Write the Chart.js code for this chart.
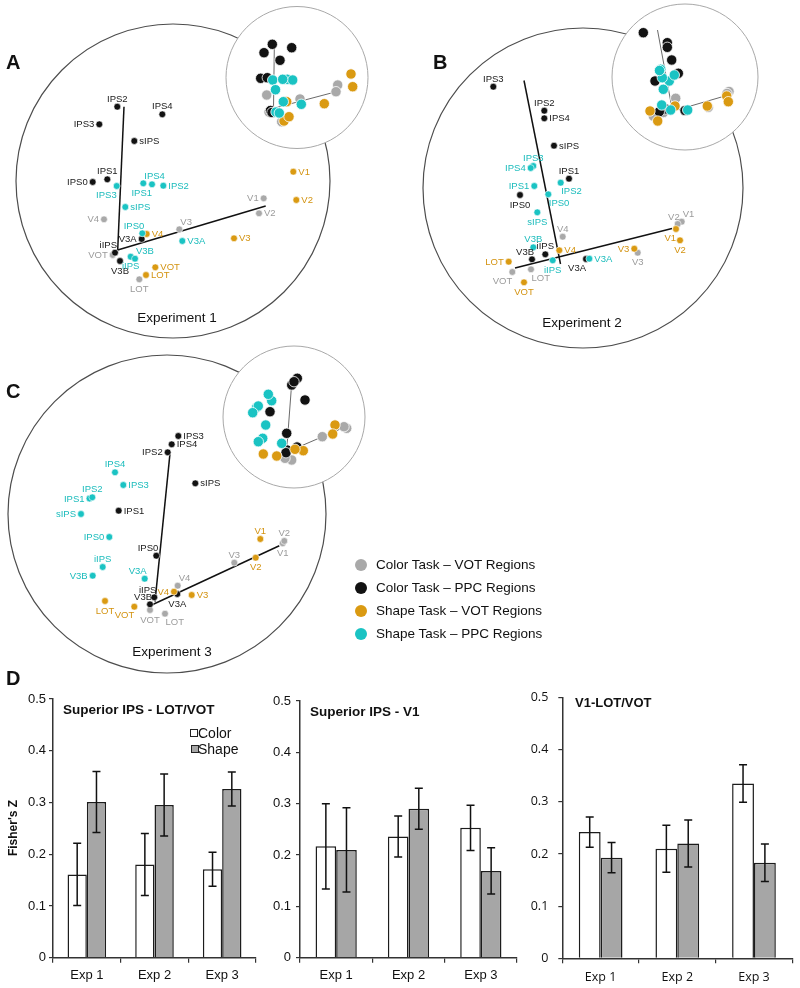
<!DOCTYPE html>
<html>
<head>
<meta charset="utf-8">
<script src="https://cdn.jsdelivr.net/npm/chart.js@4.4.1/dist/chart.umd.min.js"></script>
<style>
  body { margin: 0; width: 800px; height: 988px; position: relative; overflow: hidden; background: #fff;
         font-family: "Liberation Sans", Arial, sans-serif; color: #111; }
  canvas { position: absolute; }
  .txt { position: absolute; white-space: nowrap; line-height: 1; }
  .letter { font-size: 20px; font-weight: bold; }
  .exp { font-size: 13.5px; transform: translateX(-50%); }
  .leg { font-size: 13.5px; }
  .dot { position: absolute; width: 12px; height: 12px; border-radius: 50%; }
  .ttl { font-size: 13.5px; font-weight: bold; }
  .box { position: absolute; width: 6px; height: 6px; border: 1px solid #222; }
</style>
</head>
<body>
<canvas id="mds" width="800" height="680" style="left:0;top:0"></canvas>
<canvas id="bar1" width="265" height="308" style="left:0;top:680px"></canvas>
<canvas id="bar2" width="265" height="308" style="left:265px;top:680px"></canvas>
<canvas id="bar3" width="270" height="308" style="left:530px;top:680px"></canvas>

<div class="txt letter" style="left:6px;top:52px">A</div>
<div class="txt letter" style="left:433px;top:52px">B</div>
<div class="txt letter" style="left:6px;top:381px">C</div>
<div class="txt letter" style="left:6px;top:668px">D</div>

<div class="txt exp" style="left:177px;top:311px">Experiment 1</div>
<div class="txt exp" style="left:582px;top:316px">Experiment 2</div>
<div class="txt exp" style="left:172px;top:645px">Experiment 3</div>

<div class="dot" style="left:355px;top:559px;background:#a9a9a9"></div>
<div class="dot" style="left:355px;top:582px;background:#121212"></div>
<div class="dot" style="left:355px;top:605px;background:#da9a12"></div>
<div class="dot" style="left:355px;top:628px;background:#1ac3c3"></div>
<div class="txt leg" style="left:376px;top:558px">Color Task – VOT Regions</div>
<div class="txt leg" style="left:376px;top:581px">Color Task – PPC Regions</div>
<div class="txt leg" style="left:376px;top:604px">Shape Task – VOT Regions</div>
<div class="txt leg" style="left:376px;top:627px">Shape Task – PPC Regions</div>

<div class="txt ttl" style="left:63px;top:703px">Superior IPS - LOT/VOT</div>
<div class="txt ttl" style="left:310px;top:705px">Superior IPS - V1</div>
<div class="txt ttl" style="left:575px;top:696px;font-size:13px">V1-LOT/VOT</div>
<div class="txt" style="left:13px;top:828px;font-size:12px;font-weight:bold;transform:translate(-50%,-50%) rotate(-90deg)">Fisher's Z</div>

<div class="box" style="left:190px;top:729px;background:#fff"></div>
<div class="txt" style="left:198px;top:726px;font-size:14px">Color</div>
<div class="box" style="left:191px;top:745px;background:#a6a6a6"></div>
<div class="txt" style="left:198px;top:742px;font-size:14px">Shape</div>

<script>
// region names, same order in every point array below
const ppcNames = ['IPS0', 'IPS1', 'IPS2', 'IPS3', 'IPS4', 'sIPS', 'iIPS', 'V3A', 'V3B'];
const votNames = ['V1', 'V2', 'V3', 'V4', 'LOT', 'VOT'];

// --- Experiment 1 (MDS coordinates) ---
const e1ColorPPC = [[92.7, 182], [107.3, 179.3], [117.3, 106.7], [99.3, 124.3], [162.3, 114.3], [134.3, 141], [115, 252.7], [141.7, 239], [120, 261]];
const e1ColorVOT = [[263.7, 198.3], [259, 213.3], [179.3, 229.3], [104, 219.3], [139.3, 279.3], [112.7, 255]];
const e1ShapeVOT = [[293.3, 171.7], [296.3, 200], [234, 238.3], [146.7, 234], [146, 275], [155.3, 267.3]];
const e1ShapePPC = [[142.3, 233.3], [152, 184.3], [163.3, 185.7], [116.7, 186], [143.3, 183.3], [125.3, 207], [130.7, 256.7], [182.3, 241], [135, 258.7]];
const e1ColorPPCIn = [[260.7, 78.3], [267.3, 77.7], [272.3, 44.3], [264, 52.7], [291.7, 47.7], [280, 60.3], [270.5, 110.5], [285, 101.5], [272, 112.5]];
const e1ColorVOTIn = [[337.7, 85], [336, 91.7], [300, 99], [266.7, 95], [281.7, 121.7], [269, 112]];
const e1ShapeVOTIn = [[351, 74], [352.7, 86.7], [324.3, 103.7], [286.7, 101.7], [284, 121], [289, 116.7]];
const e1ShapePPCIn = [[283.3, 101.7], [287.3, 79.3], [292.7, 80], [272.7, 80], [282.7, 79.3], [275.5, 89.7], [276, 112], [301.3, 104.3], [279.3, 113]];
const e1Axes = [[[124, 106.7], [117.7, 250]], [[117.7, 250], [265.7, 206]]];
const e1AxesIn = [[[274.3, 48.3], [273.5, 108.3]], [[273.5, 108.3], [337, 91.5]]];

// --- Experiment 2 ---
const e2ColorPPC = [[520, 195], [569, 178.7], [544.3, 110.7], [493.3, 86.7], [544.3, 118.3], [554, 145.7], [545.3, 254.3], [586, 259], [532, 259.3]];
const e2ColorVOT = [[681.7, 221.7], [677.7, 224], [637.7, 252.7], [562.7, 236.7], [531, 269.3], [512.3, 272]];
const e2ShapeVOT = [[676, 229], [680, 240.3], [634.3, 248.7], [559.3, 250.3], [508.7, 261.7], [524, 282.3]];
const e2ShapePPC = [[548.3, 194.3], [534.3, 186], [560.7, 182.7], [533.3, 166], [530.7, 168], [537.3, 212.3], [552.7, 260.3], [589.3, 258.7], [533.3, 247.3]];
const e2ColorPPCIn = [[655, 81], [678.3, 73.3], [667.3, 42.7], [643.3, 32.7], [667.3, 47.3], [671.7, 60], [666, 109], [685, 110.5], [659.3, 111.7]];
const e2ColorVOTIn = [[729, 91.5], [727, 93.5], [708.3, 107.3], [675.7, 98.3], [663.5, 112.5], [653.3, 116]];
const e2ShapeVOTIn = [[726.7, 96], [728.3, 101.7], [707.3, 106], [675, 106], [650, 111], [657.7, 121]];
const e2ShapePPCIn = [[669.3, 81], [662.3, 77.7], [674.3, 75], [660.7, 69.3], [659.5, 70.5], [663.3, 89.3], [670.7, 110], [687.7, 110], [661.7, 105]];
const e2Axes = [[[524, 80.5], [560.5, 264]], [[515, 268], [672, 228.5]]];
const e2AxesIn = [[[657.5, 30], [672.5, 111]], [[670, 112], [728.3, 95]]];

// --- Experiment 3 ---
const e3ColorPPC = [[156.3, 555.7], [118.7, 510.7], [167.7, 452.3], [178.3, 436], [171.7, 444.3], [195.3, 483.3], [154.3, 597.3], [177.3, 594], [150, 604.3]];
const e3ColorVOT = [[282.7, 543.3], [284.3, 541], [234.3, 562.7], [177.7, 585.7], [165, 613.7], [150, 610]];
const e3ShapeVOT = [[260.3, 539], [255.7, 557.7], [191.7, 595], [174, 591.7], [105, 601], [134.3, 606.7]];
const e3ShapePPC = [[109.3, 537], [89.5, 498.5], [92.3, 497.3], [123.3, 485], [115, 472.3], [81, 514], [102.7, 567], [144.7, 578.7], [92.7, 575.7]];
const e3ColorPPCIn = [[286.7, 433.3], [270, 411.7], [291.7, 385], [297.3, 378.3], [294, 381.7], [305, 400], [287, 450], [297, 447], [286, 452.7]];
const e3ColorVOTIn = [[346.7, 428.3], [344, 426.7], [322.3, 436.7], [297.3, 446.7], [291.7, 460], [285, 458.3]];
const e3ShapeVOTIn = [[335, 425], [332.7, 434], [303.3, 450.7], [295, 449.3], [263.3, 454], [276.7, 456]];
const e3ShapePPCIn = [[265.7, 425], [256.5, 407.5], [258.3, 406], [271.7, 400.7], [268.3, 394.3], [252.7, 412.7], [262.7, 438.3], [281.7, 443.3], [258.3, 441.7]];
const e3Axes = [[[170, 453.3], [155, 601.7]], [[151.7, 605], [279.3, 545.7]]];
const e3AxesIn = [[[291.7, 383.3], [286.7, 450]], [[287, 452], [345, 427]]];

// --- Panel D: Fisher's Z (mean and error) ---
const expLabels = ['Exp 1', 'Exp 2', 'Exp 3'];
const ipsLotColor = [0.161, 0.180, 0.171];
const ipsLotColorErr = [0.060, 0.060, 0.033];
const ipsLotShape = [0.301, 0.295, 0.326];
const ipsLotShapeErr = [0.059, 0.060, 0.033];
const ipsV1Color = [0.217, 0.236, 0.253];
const ipsV1ColorErr = [0.083, 0.040, 0.044];
const ipsV1Shape = [0.210, 0.290, 0.169];
const ipsV1ShapeErr = [0.082, 0.040, 0.045];
const v1LotColor = [0.242, 0.210, 0.335];
const v1LotColorErr = [0.029, 0.045, 0.036];
const v1LotShape = [0.193, 0.220, 0.183];
const v1LotShapeErr = [0.029, 0.045, 0.036];

// label side for each point: l r t b tl tr bl br
const e1Pos = [
  ['l', 'r', 'tr', 'l', 'b', 'l'],
  ['l', 't', 't', 'l', 't', 'r', 'tl', 'l', 'b'],
  ['r', 'r', 'r', 'r', 'r', 'r'],
  ['tl', 'bl', 'r', 'bl', 'tr', 'r', 'b', 'r', 'tr'],
];
const e2Pos = [
  ['tr', 'tl', 'b', 't', 'br', 'bl'],
  ['b', 't', 't', 't', 'r', 'r', 't', 'bl', 'tl'],
  ['bl', 'b', 'l', 'r', 'l', 'b'],
  ['br', 'l', 'br', 't', 'l', 'b', 'b', 'r', 't'],
];
const e3Pos = [
  ['b', 't', 't', 'tr', 'br', 'b'],
  ['tl', 'r', 'l', 'r', 'r', 'r', 'tl', 'b', 'tl'],
  ['t', 'b', 'r', 'l', 'b', 'bl'],
  ['l', 'l', 't', 'r', 't', 'l', 't', 'tl', 'l'],
];

// circles: [cx, cy, r] in the same units as the points
const mainRings = [[173, 181, 157], [583, 188, 160], [167, 514, 159]];
const insetRings = [[297, 77.5, 71], [685, 77, 73], [294, 417, 71]];

const groups = [
  { color: '#a9a9a9', text: '#9b9b9b', order: 4, names: votNames },
  { color: '#121212', text: '#1a1a1a', order: 3, names: ppcNames },
  { color: '#da9a12', text: '#d39311', order: 2, names: votNames },
  { color: '#1ac3c3', text: '#1bbcbc', order: 1, names: ppcNames },
];

const experiments = [
  { main: [e1ColorVOT, e1ColorPPC, e1ShapeVOT, e1ShapePPC], inset: [e1ColorVOTIn, e1ColorPPCIn, e1ShapeVOTIn, e1ShapePPCIn], pos: e1Pos, axes: e1Axes, axesIn: e1AxesIn },
  { main: [e2ColorVOT, e2ColorPPC, e2ShapeVOT, e2ShapePPC], inset: [e2ColorVOTIn, e2ColorPPCIn, e2ShapeVOTIn, e2ShapePPCIn], pos: e2Pos, axes: e2Axes, axesIn: e2AxesIn },
  { main: [e3ColorVOT, e3ColorPPC, e3ShapeVOT, e3ShapePPC], inset: [e3ColorVOTIn, e3ColorPPCIn, e3ShapeVOTIn, e3ShapePPCIn], pos: e3Pos, axes: e3Axes, axesIn: e3AxesIn },
];

const toPts = arr => arr.map(([x, y]) => ({ x, y }));

const mdsSets = [];
experiments.forEach(exp => {
  exp.axes.forEach(seg => mdsSets.push({ data: toPts(seg), showLine: true, pointRadius: 0, borderColor: '#111', borderWidth: 1.5, order: 6 }));
  exp.axesIn.forEach(seg => mdsSets.push({ data: toPts(seg), showLine: true, pointRadius: 0, borderColor: '#6a6a6a', borderWidth: 1, order: 6 }));
  groups.forEach((g, k) => {
    mdsSets.push({
      data: toPts(exp.main[k]), names: g.names, anchors: exp.pos[k], textColor: g.text,
      backgroundColor: g.color, borderColor: '#fff', borderWidth: 0.6, pointRadius: 3.4, order: g.order,
    });
    mdsSets.push({
      data: toPts(exp.inset[k]),
      backgroundColor: g.color, borderColor: '#fff', borderWidth: 0.8, pointRadius: 5.2, order: g.order,
    });
  });
});

// circle outlines behind the points
const ringPlugin = {
  id: 'rings',
  beforeDatasetsDraw(chart) {
    const { ctx, scales: { x, y } } = chart;
    const ring = ([cx, cy, r], fill, stroke, w) => {
      const px = x.getPixelForValue(cx), py = y.getPixelForValue(cy);
      const pr = x.getPixelForValue(cx + r) - px;
      ctx.beginPath();
      ctx.arc(px, py, pr, 0, Math.PI * 2);
      if (fill) { ctx.fillStyle = fill; ctx.fill(); }
      ctx.strokeStyle = stroke; ctx.lineWidth = w; ctx.stroke();
    };
    ctx.save();
    mainRings.forEach(c => ring(c, null, '#4d4d4d', 1.2));
    insetRings.forEach(c => ring(c, '#fff', '#a8a8a8', 1));
    ctx.restore();
  },
};

// region names next to each point
const labelPlugin = {
  id: 'regionLabels',
  afterDatasetsDraw(chart) {
    const ctx = chart.ctx;
    ctx.save();
    ctx.font = '9.5px "Liberation Sans", Arial, sans-serif';
    chart.data.datasets.forEach((ds, i) => {
      if (!ds.names) return;
      ctx.fillStyle = ds.textColor;
      chart.getDatasetMeta(i).data.forEach((pt, j) => {
        const a = ds.anchors[j];
        let x = pt.x, y = pt.y;
        ctx.textBaseline = 'alphabetic';
        if (a === 'r') { ctx.textAlign = 'left'; x += 5; ctx.textBaseline = 'middle'; }
        else if (a === 'l') { ctx.textAlign = 'right'; x -= 5; ctx.textBaseline = 'middle'; }
        else if (a === 't') { ctx.textAlign = 'center'; y -= 5; }
        else if (a === 'b') { ctx.textAlign = 'center'; y += 12.5; }
        else if (a === 'tl') { ctx.textAlign = 'right'; x += 2; y -= 4.5; }
        else if (a === 'tr') { ctx.textAlign = 'left'; x += 1; y -= 4.5; }
        else if (a === 'bl') { ctx.textAlign = 'right'; y += 11.5; }
        else { ctx.textAlign = 'left'; x += 0.5; y += 11.5; }
        ctx.fillText(ds.names[j], x, y + (ctx.textBaseline === 'middle' ? 0.5 : 0));
      });
    });
    ctx.restore();
  },
};

new Chart(document.getElementById('mds'), {
  type: 'scatter',
  data: { datasets: mdsSets },
  options: {
    responsive: false,
    animation: false,
    layout: { padding: 0, autoPadding: false },
    scales: {
      x: { type: 'linear', min: 0, max: 800, display: false },
      y: { type: 'linear', min: 0, max: 680, reverse: true, display: false },
    },
    plugins: { legend: { display: false }, tooltip: { enabled: false } },
  },
  plugins: [ringPlugin, labelPlugin],
});

// error bars on top of each bar
const errorBars = {
  id: 'errorBars',
  afterDatasetsDraw(chart) {
    const { ctx, scales: { y } } = chart;
    ctx.save();
    ctx.strokeStyle = '#111';
    ctx.lineWidth = 1.5;
    chart.data.datasets.forEach((ds, i) => {
      chart.getDatasetMeta(i).data.forEach((bar, j) => {
        const hi = y.getPixelForValue(ds.data[j] + ds.errors[j]);
        const lo = y.getPixelForValue(ds.data[j] - ds.errors[j]);
        ctx.beginPath();
        ctx.moveTo(bar.x, hi); ctx.lineTo(bar.x, lo);
        ctx.moveTo(bar.x - 4, hi); ctx.lineTo(bar.x + 4, hi);
        ctx.moveTo(bar.x - 4, lo); ctx.lineTo(bar.x + 4, lo);
        ctx.stroke();
      });
    });
    ctx.restore();
  },
};

function barChart(id, colorVals, colorErr, shapeVals, shapeErr, g) {
  const font = { family: g.family, size: g.size };
  return new Chart(document.getElementById(id), {
    type: 'bar',
    data: {
      labels: expLabels,
      datasets: [
        { label: 'Color', data: colorVals, errors: colorErr, backgroundColor: '#ffffff', borderColor: '#1c1c1c', borderWidth: 1.5, borderSkipped: 'bottom' },
        { label: 'Shape', data: shapeVals, errors: shapeErr, backgroundColor: '#a6a6a6', borderColor: '#1c1c1c', borderWidth: 1.5, borderSkipped: 'bottom' },
      ],
    },
    options: {
      responsive: false,
      animation: false,
      layout: { padding: { top: g.top, right: g.right, left: 0, bottom: 0 }, autoPadding: false },
      datasets: { bar: { categoryPercentage: 0.57, barPercentage: 1 } },
      plugins: { legend: { display: false }, tooltip: { enabled: false } },
      scales: {
        x: {
          grid: { drawOnChartArea: false, tickLength: 5, color: '#333', lineWidth: 1.2 },
          border: { color: '#333', width: 1.5 },
          ticks: { color: '#111', font, padding: g.xpad },
          afterFit: s => { s.height = g.xh; },
        },
        y: {
          min: 0, max: 0.5,
          grid: { drawOnChartArea: false, tickLength: 4, color: '#333', lineWidth: 1.2 },
          border: { color: '#333', width: 1.5 },
          ticks: { stepSize: 0.1, color: '#111', font, padding: g.ypad },
          afterFit: s => { s.width = g.yw; },
        },
      },
    },
    plugins: [errorBars],
  });
}

const sans = '"Liberation Sans", Arial, sans-serif';
barChart('bar1', ipsLotColor, ipsLotColorErr, ipsLotShape, ipsLotShapeErr,
  { top: 19, right: 9, yw: 53, xh: 30.3, xpad: 5, ypad: 3, family: sans, size: 13 });
barChart('bar2', ipsV1Color, ipsV1ColorErr, ipsV1Shape, ipsV1ShapeErr,
  { top: 21, right: 13, yw: 35, xh: 30.3, xpad: 5, ypad: 5, family: sans, size: 13 });
barChart('bar3', v1LotColor, v1LotColorErr, v1LotShape, v1LotShapeErr,
  { top: 13.3, right: 7.7, yw: 32.3, xh: 29.7, xpad: 6.5, ypad: 10, family: '"Open Sans", sans-serif', size: 12.5 });
</script>
</body>
</html>
